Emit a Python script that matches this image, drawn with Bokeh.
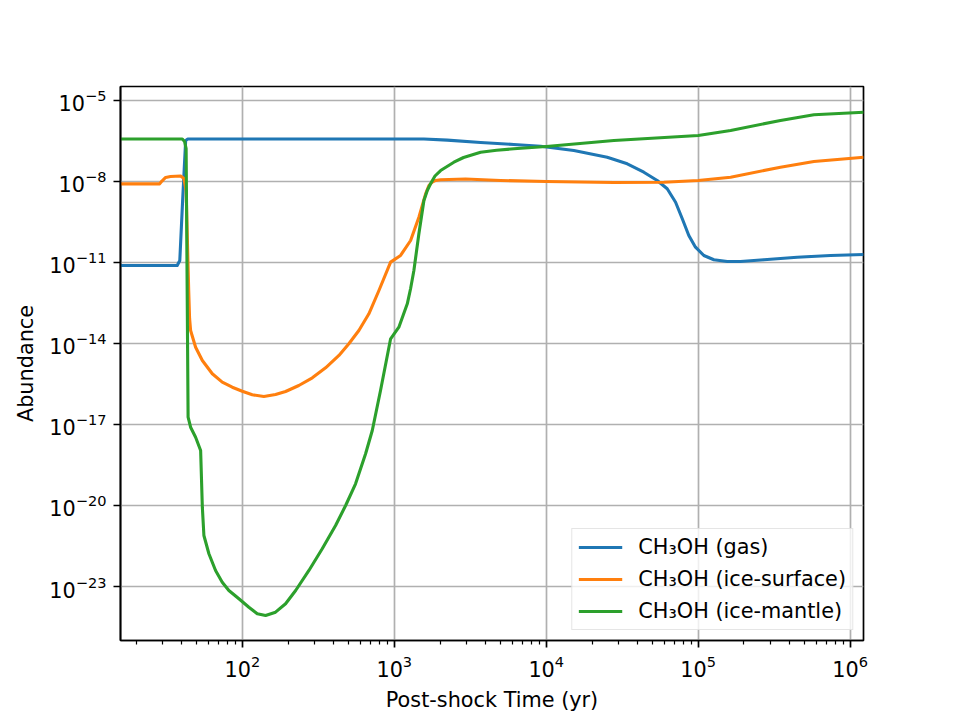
from bokeh.plotting import figure
from bokeh.models import FixedTicker, Legend, LegendItem
from bokeh.embed import file_html
from bokeh.resources import INLINE

# Post-shock CH3OH abundances (relative to H) versus time in years
gas_time = [15.8, 37.3, 38.8, 40.5, 42.4, 43.8, 1567, 2234, 3698, 6124, 9180,
            15200, 25180, 34120, 43850, 53700, 62500, 70960, 78530, 86700,
            95940, 1.089e5, 1.268e5, 1.552e5, 1.897e5, 2.705e5, 4.477e5,
            7.41e5, 1.227e6]
gas_abund = [7.7e-12, 7.7e-12, 1.19e-11, 1.98e-9, 3.30e-7, 3.75e-7, 3.75e-7,
             3.40e-7, 2.78e-7, 2.35e-7, 2.03e-7, 1.41e-7, 7.94e-8, 4.53e-8,
             2.21e-8, 1.09e-8, 5.37e-9, 1.71e-9, 4.16e-10, 1.0e-10, 3.69e-11,
             1.82e-11, 1.26e-11, 1.09e-11, 1.09e-11, 1.26e-11, 1.57e-11,
             1.82e-11, 1.98e-11]

surf_time = [15.8, 28.6, 29.6, 31.3, 33.7, 39.3, 41.3, 42.7, 44.4, 45.0, 45.7,
             49.3, 54.6, 63.5, 73.8, 85.9, 100, 116.3, 138.7, 165.5, 192.7,
             235.5, 289.0, 353.3, 432.5, 502.6, 584.8, 680.8, 792.6, 946,
             1100, 1281, 1452, 1608, 1690, 1778, 1871, 2018, 2944, 5000,
             1.0e4, 27860, 59430, 1.0e5, 1.633e5, 3.475e5, 5.77e5, 1.227e6]
surf_abund = [8.2e-9, 8.2e-9, 1.04e-8, 1.41e-8, 1.53e-8, 1.60e-8, 1.29e-8,
              4.64e-9, 9.18e-13, 8.43e-14, 3.03e-14, 7.29e-15, 2.35e-15,
              7.55e-16, 3.69e-16, 2.40e-16, 1.71e-16, 1.26e-16, 1.09e-16,
              1.29e-16, 1.67e-16, 2.78e-16, 5.37e-16, 1.26e-15, 3.60e-15,
              9.75e-15, 3.03e-14, 1.26e-13, 9.18e-13, 1.03e-11, 1.82e-11,
              6.53e-11, 4.77e-10, 3.50e-9, 7.11e-9, 9.42e-9, 1.09e-8, 1.16e-8,
              1.24e-8, 1.09e-8, 1.0e-8, 9.18e-9, 9.42e-9, 1.09e-8, 1.44e-8,
              3.39e-8, 5.51e-8, 7.94e-8]

mantle_time = [15.8, 40.3, 41.7, 42.7, 44.0, 45.7, 49.3, 53.2, 54.6, 55.9,
               60.3, 66.7, 73.8, 81.6, 95.0, 110.5, 125.5, 142.3, 165.5,
               192.7, 224.4, 274.4, 335.7, 411.0, 478.6, 556.2, 647.6, 716.6,
               812, 946, 1072, 1218, 1281, 1346, 1452, 1567, 1649, 1733, 1853,
               2018, 2467, 2857, 3698, 4710, 6124, 1.0e4, 27860, 1.0e5,
               1.633e5, 3.475e5, 5.77e5, 1.227e6]
mantle_abund = [3.75e-7, 3.75e-7, 3.03e-7, 1.67e-7, 1.86e-17, 7.94e-18,
                3.39e-18, 1.09e-18, 8.65e-21, 7.74e-22, 1.63e-22, 3.92e-23,
                1.44e-23, 7.11e-24, 3.50e-24, 1.71e-24, 9.75e-25, 8.43e-25,
                1.12e-24, 2.29e-24, 7.11e-24, 3.92e-23, 2.49e-22, 1.82e-21,
                1.0e-20, 6.37e-20, 8.22e-19, 6.0e-18, 1.82e-16, 1.49e-14,
                4.02e-14, 2.95e-13, 1.09e-12, 5.06e-12, 1.16e-10, 1.98e-9,
                4.64e-9, 8.22e-9, 1.60e-8, 2.55e-8, 5.19e-8, 7.74e-8, 1.22e-7,
                1.43e-7, 1.63e-7, 1.98e-7, 3.30e-7, 5.06e-7, 7.74e-7, 1.82e-6,
                2.95e-6, 3.69e-6]

series_labels = ["CH\u2083OH (gas)", "CH\u2083OH (ice-surface)", "CH\u2083OH (ice-mantle)"]
series_colors = ["#1f77b4", "#ff7f0e", "#2ca02c"]

y_major = [10.0 ** e for e in range(-5, -24, -3)]
x_major = [10.0 ** e for e in range(2, 7)]
x_minor = [k * 10.0 ** e for e in range(1, 7) for k in range(2, 10)]

FONT = "DejaVu Sans"
FS = "20.8px"

p = figure(width=960, height=720, x_axis_type="log", y_axis_type="log",
           x_range=(15.8, 1.223e6), y_range=(1e-25, 3.3e-5),
           output_backend="svg", toolbar_location=None,
           min_border_left=120, min_border_right=97,
           min_border_top=86, min_border_bottom=80)

p.background_fill_color = "white"
p.border_fill_color = "white"
p.outline_line_color = "black"
p.outline_line_width = 1.7

for ax in (p.xaxis[0], p.yaxis[0]):
    ax.axis_line_width = 1.7
    ax.major_tick_line_width = 1.7
    ax.major_tick_out = 7
    ax.major_tick_in = 0
    ax.minor_tick_line_width = 1.2
    ax.minor_tick_out = 4
    ax.minor_tick_in = 0
    ax.major_label_text_font = FONT
    ax.major_label_text_font_size = FS
    ax.major_label_text_color = "black"
    ax.major_label_standoff = 7
    ax.axis_label_text_font = FONT
    ax.axis_label_text_font_size = FS
    ax.axis_label_text_font_style = "normal"
    ax.axis_label_text_color = "black"
    ax.axis_label_standoff = 8

p.xaxis.ticker = FixedTicker(ticks=x_major, minor_ticks=x_minor)
p.yaxis.ticker = FixedTicker(ticks=y_major, minor_ticks=[])
p.xaxis.axis_label = "Post-shock Time (yr)"
p.yaxis.axis_label = "Abundance"

p.xgrid.ticker = FixedTicker(ticks=x_major)
p.ygrid.ticker = FixedTicker(ticks=y_major)
for g in (p.xgrid[0], p.ygrid[0]):
    g.grid_line_color = "#b0b0b0"
    g.grid_line_width = 1.7

items = []
for t, a, lab, col in zip([gas_time, surf_time, mantle_time],
                          [gas_abund, surf_abund, mantle_abund],
                          series_labels, series_colors):
    r = p.line(t, a, line_color=col, line_width=3.1, line_join="round")
    items.append(LegendItem(label=lab, renderers=[r]))

legend = Legend(items=items, location="bottom_right")
legend.label_text_font = FONT
legend.label_text_font_size = FS
legend.label_text_color = "black"
legend.glyph_width = 44
legend.glyph_height = 22
legend.label_height = 22
legend.label_standoff = 16
legend.spacing = 8
legend.padding = 6
legend.margin = 10
legend.border_line_color = "#cccccc"
legend.border_line_width = 1.5
legend.background_fill_alpha = 0.8
p.add_layout(legend)

open("out.html", "w").write(file_html(p, INLINE))
